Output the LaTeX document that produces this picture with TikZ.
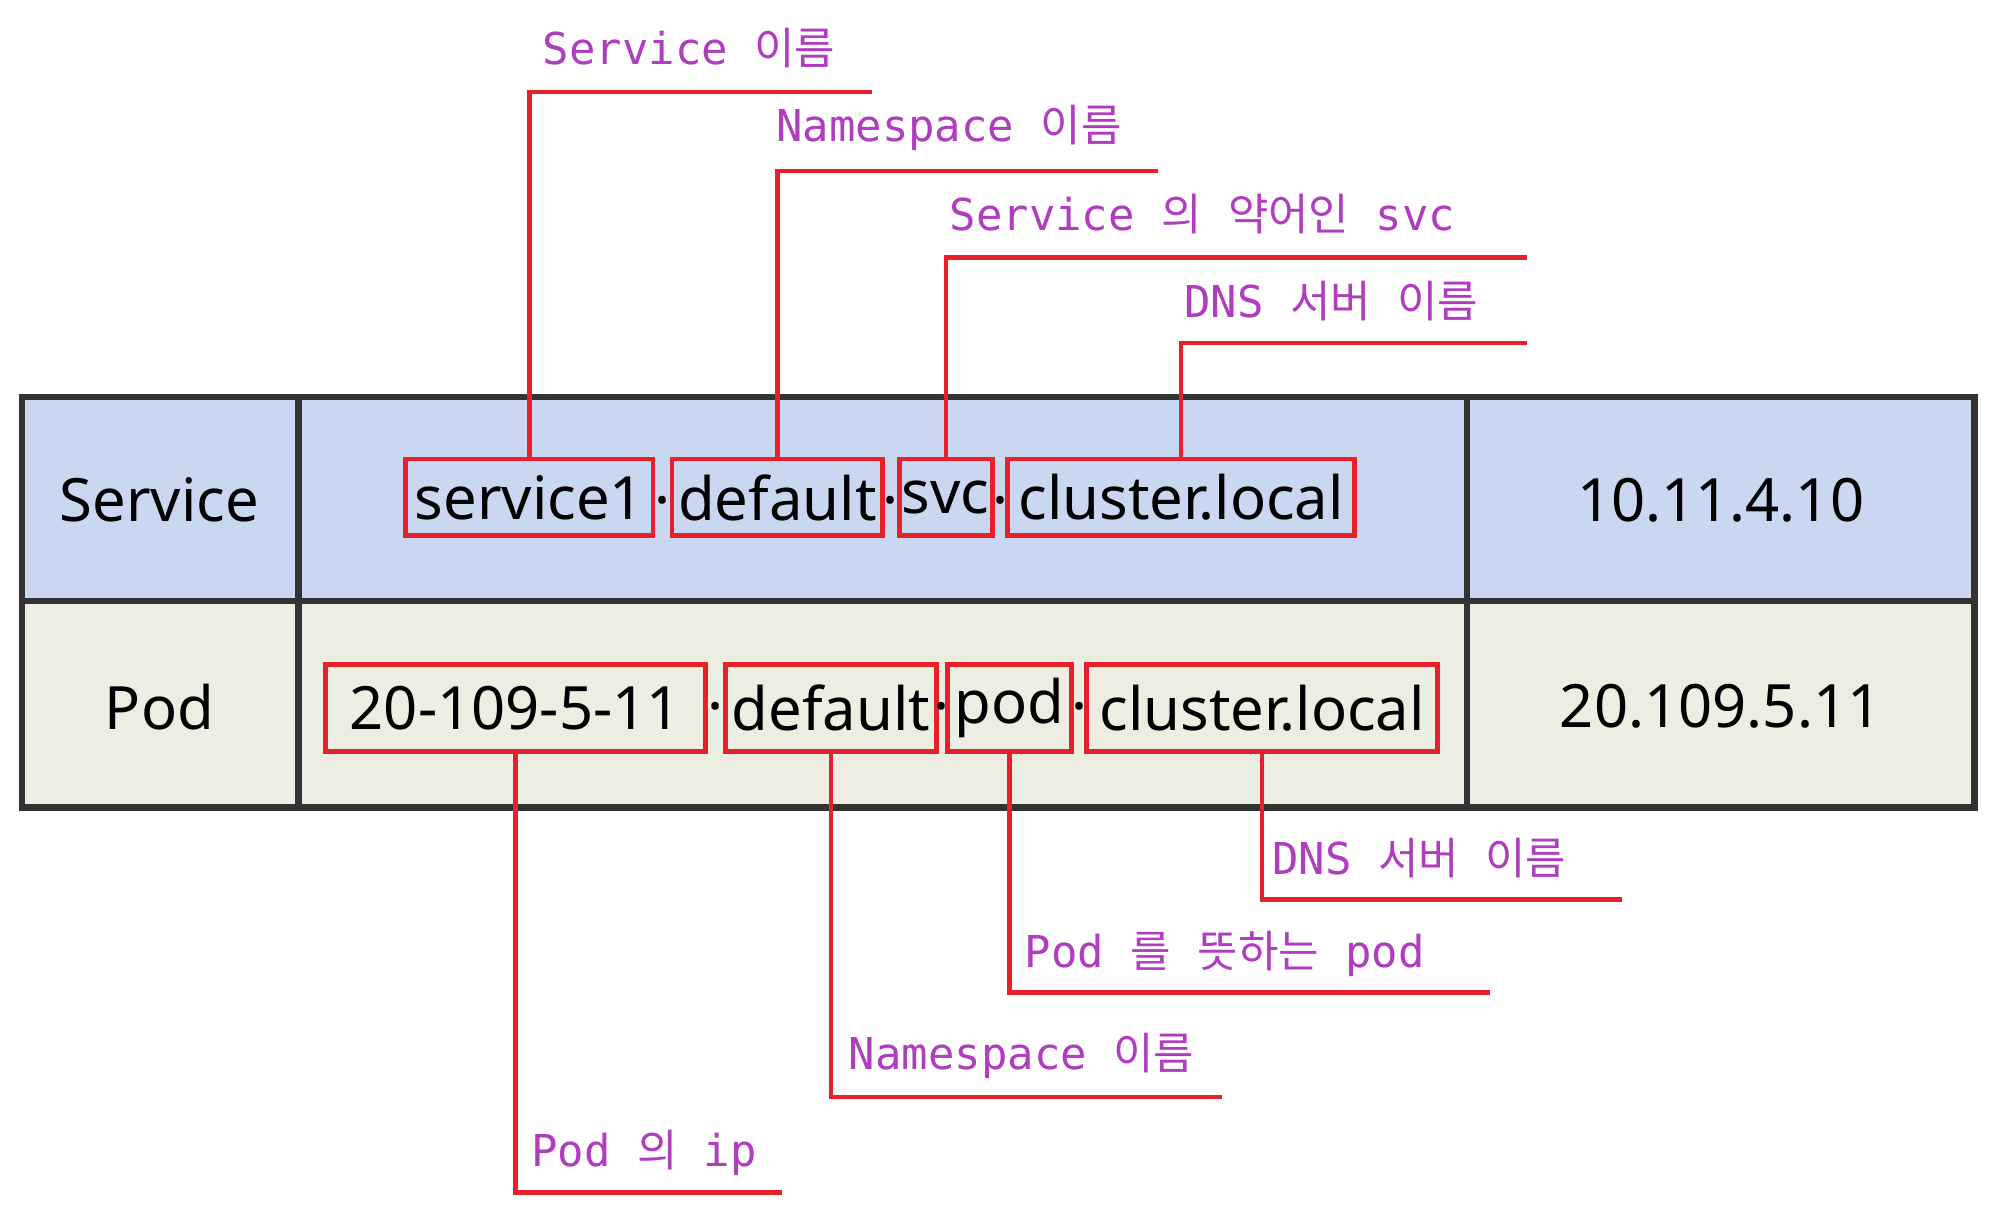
\documentclass[tikz,border=0pt]{standalone}
\usepackage{fontspec}
\setmainfont{Noto Sans}
\newfontfamily\monof{DejaVu Sans Mono}
\newfontfamily\kr{Noto Sans CJK KR}
\usetikzlibrary{fit}
\definecolor{svcblue}{HTML}{C9D8F0}
\definecolor{podgreen}{HTML}{EBEEE0}
\definecolor{lab}{HTML}{B03CC0}
\definecolor{rbox}{HTML}{E8202A}
\newcommand{\K}[1]{{\kr #1}}
\tikzset{
  redbox/.style={draw=rbox, line width=1.3pt, inner sep=0pt},
  cell/.style={font=\fontsize{17}{20}\selectfont, inner sep=0pt},
  leader/.style={draw=rbox, line width=1.3pt},
  lbl/.style={anchor=south west, text=lab, font=\monof\fontsize{12.5}{15}\selectfont, inner sep=0pt},
  grid/.style={draw=black!80, line width=1.8pt}
}
\begin{document}
\begin{tikzpicture}[x=0.012755cm,y=-0.012755cm]
\useasboundingbox[fill=white] (0,0) rectangle (1568,960);
\fill[svcblue] (17,311) rectangle (1548,471);
\fill[podgreen] (17,471) rectangle (1548,633);
\draw[grid] (17,311) rectangle (1548,633);
\draw[grid] (17,471) -- (1548,471);
\draw[grid] (234,311) -- (234,633);
\draw[grid] (1150,311) -- (1150,633);
\node[cell] (svc) at (125,392) {Service};
\node[cell] (pod) at (125,554) {Pod};
\node[cell] (ip1) at (1349,392) {10.11.4.10};
\node[cell] (ip2) at (1349,554) {20.109.5.11};
% service row
\node[redbox, fit={(318,360)(512,420)}] (a1) {};
\node[redbox, fit={(527,360)(692,420)}] (a2) {};
\node[redbox, fit={(705,360)(778,420)}] (a3) {};
\node[redbox, fit={(790,360)(1062,420)}] (a4) {};
\node[cell] at (a1.center) {service1};
\node[cell] at (519.5,392) {.};
\node[cell] at (a2.center) {default};
\node[cell] at (698.5,392) {.};
\node[cell] at (a3.center) {svc};
\node[cell] at (784,392) {.};
\node[cell] at (a4.center) {cluster.local};
% pod row
\node[redbox, fit={(255,521)(553,589)}] (b1) {};
\node[redbox, fit={(569,521)(734,589)}] (b2) {};
\node[redbox, fit={(743,521)(840,589)}] (b3) {};
\node[redbox, fit={(852,521)(1127,589)}] (b4) {};
\node[cell] at (b1.center) {20-109-5-11};
\node[cell] at (561,554) {.};
\node[cell] at (b2.center) {default};
\node[cell] at (738.5,554) {.};
\node[cell] at (b3.center) {pod};
\node[cell] at (846,554) {.};
\node[cell] at (b4.center) {cluster.local};
% top leaders
\coordinate (e1) at (684,72);
\coordinate (e2) at (908,134);
\coordinate (e3) at (1197,202);
\coordinate (e4) at (1197,269);
\draw[leader] (a1.north) |- (e1);
\draw[leader] (a2.north) |- (e2);
\draw[leader] (a3.north) |- (e3);
\draw[leader] (a4.north) |- (e4);
\node[lbl] (t1) at (425,54) {Service \K{이름}};
\node[lbl] (t2) at (608,119) {Namespace \K{이름}};
\node[lbl] (t3) at (744,184) {Service \K{의} \K{약어인} svc};
\node[lbl] (t4) at (928,252) {DNS \K{서버} \K{이름}};
% bottom leaders
\coordinate (f1) at (613,935);
\coordinate (f2) at (958,860);
\coordinate (f3) at (1168,778);
\coordinate (f4) at (1272,705);
\draw[leader] (b1.south) |- (f1);
\draw[leader] (b2.south) |- (f2);
\draw[leader] (b3.south) |- (f3);
\draw[leader] (b4.south) |- (f4);
\node[lbl] (u1) at (416,922) {Pod \K{의} ip};
\node[lbl] (u2) at (665,846) {Namespace \K{이름}};
\node[lbl] (u3) at (803,766) {Pod \K{를} \K{뜻하는} pod};
\node[lbl] (u4) at (997,689) {DNS \K{서버} \K{이름}};
\end{tikzpicture}
\end{document}
